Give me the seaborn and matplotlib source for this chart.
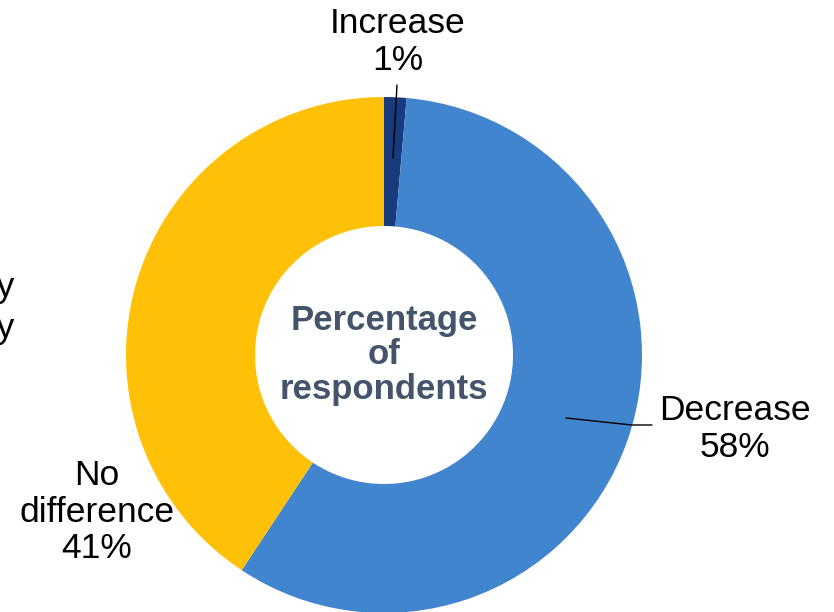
import matplotlib
matplotlib.use("Agg")
import matplotlib.pyplot as plt
import seaborn as sns

categories = ["Increase", "Decrease", "No difference"]
label_text = ["Increase\n1%", "Decrease\n58%", "No\ndifference\n41%"]
values = [1.4, 57.9, 40.7]
colors = ["#1A3A7E", "#4285CF", "#FFC107"]
center_title = "Percentage\nof\nrespondents"

sns.set_style("white")
plt.rcParams['font.family'] = ['Liberation Sans', 'DejaVu Sans']

W, H = 834, 612
fig = plt.figure(figsize=(W / 100, H / 100), dpi=100)
ax = fig.add_axes([0, 0, 1, 1])

cx, cy, R = 384, H - 355, 258
ax.pie(values, colors=colors, startangle=90, counterclock=False,
       center=(cx, cy), radius=R,
       wedgeprops=dict(width=R * 0.5, linewidth=0))
ax.set_xlim(0, W)
ax.set_ylim(0, H)
ax.set_aspect('equal')
ax.axis('off')

fs = 25.5
ls = 1.13
# Increase label
ax.text(398, H - 42, label_text[0], ha='center', va='center', fontsize=fs, color='black', linespacing=ls)
ax.plot([397, 393], [H - 85, H - 158], color='black', lw=1)
# Decrease label
ax.text(735, H - 429, label_text[1], ha='center', va='center', fontsize=fs, color='black', linespacing=ls)
ax.plot([566, 632, 652], [H - 418, H - 425, H - 425], color='black', lw=1)
# No difference label
ax.text(97, H - 512, label_text[2], ha='center', va='center', fontsize=fs, color='black', linespacing=ls)

# center title
ax.text(cx, cy, center_title, ha='center', va='center', fontsize=25, fontweight='bold',
        color='#44546A', linespacing=1.05)

# cut-off text at left edge
ax.text(15, H - 308, "Frequency\nActivity", ha='right', va='center', fontsize=fs, color='black', linespacing=1.27)

fig.savefig("out.png", dpi=100)
